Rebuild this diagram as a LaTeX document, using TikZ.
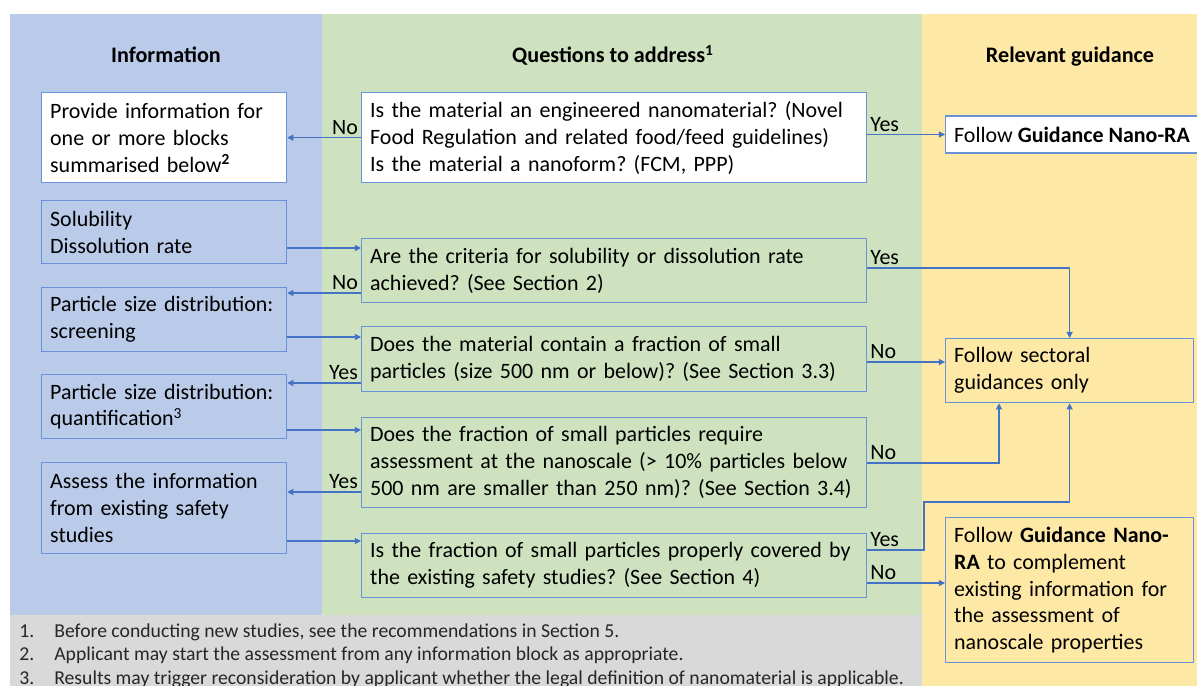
\documentclass[tikz,border=0pt]{standalone}
\usepackage{fontspec}
\setmainfont{Carlito}
\usetikzlibrary{arrows.meta}
\frenchspacing

\definecolor{infoblue}{RGB}{186,202,233}
\definecolor{questgreen}{RGB}{206,226,192}
\definecolor{guideyellow}{RGB}{254,232,166}
\definecolor{notegrey}{RGB}{217,217,217}
\definecolor{boxblue}{RGB}{106,146,214}
\definecolor{arrowblue}{RGB}{68,114,196}
\definecolor{notetext}{RGB}{38,38,38}

\begin{document}
\begin{tikzpicture}[x=0.02cm, y=-0.02cm,
        box/.style={draw=boxblue, line width=0.75pt, anchor=north west, align=left,
            inner xsep=0.17cm, inner ysep=0pt, font=\fontsize{12.5}{15.3}\selectfont},
        infobox/.style={box, text width=4.56cm},
        questbox/.style={box, text width=9.76cm},
        guidebox/.style={box, text width=4.62cm},
        head/.style={anchor=base, font=\fontsize{12.6}{15.3}\selectfont\bfseries},
        lbl/.style={font=\fontsize{12.5}{15.3}\selectfont, inner sep=1.5pt},
        note/.style={text=notetext, font=\fontsize{11.2}{13.6}\selectfont, anchor=base west, inner sep=0pt},
        arr/.style={draw=arrowblue, line width=0.6pt, -{Triangle[length=3.5pt,width=3.5pt]}}]

    \useasboundingbox (0,0) rectangle (1197,686);

    \fill[infoblue] (10,14) rectangle (322,615);
    \fill[questgreen] (322,14) rectangle (922,615);
    \fill[notegrey] (10,615) rectangle (922,686);
    \fill[guideyellow] (922,14) rectangle (1197,686);

    \node[head] (hinfo) at (166,63) {Information};
    \node[head] (hquest) at (613,63) {Questions to address\textsuperscript{1}};
    \node[head] (hguide) at (1070,63) {Relevant guidance};

    \node[infobox, fill=white, minimum height=1.8cm] (provide) at (41,92) {Provide information for\\one or more blocks\\summarised below\textsuperscript{\textbf{2}}};
    \node[infobox, minimum height=1.26cm] (solub) at (41,200) {Solubility\\Dissolution rate};
    \node[infobox, minimum height=1.28cm] (screen) at (41,287) {Particle size distribution:\\screening};
    \node[infobox, minimum height=1.28cm] (quant) at (41,374) {Particle size distribution:\\quantification\textsuperscript{3}};
    \node[infobox, minimum height=1.82cm] (assess) at (41,462) {Assess the information\\from existing safety\\studies};

    \node[questbox, fill=white, minimum height=1.8cm] (q1) at (361,92) {Is the material an engineered nanomaterial? (Novel\\Food Regulation and related food/feed guidelines)\\Is the material a nanoform? (FCM, PPP)};
    \node[questbox, minimum height=1.28cm] (q2) at (361,238) {Are the criteria for solubility or dissolution rate\\achieved? (See Section 2)};
    \node[questbox, minimum height=1.3cm] (q3) at (361,326) {Does the material contain a fraction of small\\particles (size 500 nm or below)? (See Section 3.3)};
    \node[questbox, minimum height=1.8cm] (q4) at (361,417) {Does the fraction of small particles require\\assessment at the nanoscale (> 10\% particles below\\500 nm are smaller than 250 nm)? (See Section 3.4)};
    \node[questbox, minimum height=1.28cm] (q5) at (361,533) {Is the fraction of small particles properly covered by\\the existing safety studies? (See Section 4)};

    \node[box, fill=white, anchor=west, minimum height=0.74cm] (guide1) at (945,134.5) {Follow \textbf{Guidance Nano-RA}};
    \node[guidebox, minimum height=1.28cm] (guide2) at (945,338) {Follow sectoral\\guidances only};
    \node[guidebox, minimum height=2.9cm] (guide3) at (945,517) {Follow \textbf{Guidance Nano-}\\\textbf{RA} to complement\\existing information for\\the assessment of\\nanoscale properties};

    \draw[arr] (q1.west) node[lbl, above left] {No} -- (provide.east);
    \draw[arr] (guide1.west -| q1.east) node[lbl, above right] {Yes} -- (guide1.west);
    \draw[arr] (solub.east |- 0,248) -- (q2.west |- 0,248);
    \draw[arr] (q2.west |- 0,293) node[lbl, above left] {No} -- (screen.east |- 0,293);
    \draw[arr] (screen.east |- 0,337) -- (q3.west |- 0,337);
    \draw[arr] (q3.west |- 0,383) node[lbl, above left] {Yes} -- (quant.east |- 0,383);
    \draw[arr] (quant.east |- 0,430) -- (q4.west |- 0,430);
    \draw[arr] (q4.west |- 0,492) node[lbl, above left] {Yes} -- (assess.east |- 0,492);
    \draw[arr] (assess.east |- 0,541) -- (q5.west |- 0,541);

    \draw[arr] (q2.east |- 0,268) node[lbl, above right] {Yes} -| (guide2.north);
    \draw[arr] (q3.east |- 0,362) node[lbl, above right] {No} -- (guide2.west |- 0,362);
    \draw[arr] (q4.east |- 0,463) node[lbl, above right] {No} -| (guide2.south -| 999,0);
    \draw[arr] (q5.east |- 0,550) node[lbl, above right] {Yes} -- (924,550) |- (guide2.south |- 0,502) -- (guide2.south);
    \draw[arr] (q5.east |- 0,583) node[lbl, above right] {No} -- (guide3.west |- 0,583);

    \node[note] (note1) at (19,637) {\makebox[0.7cm][l]{1.}Before conducting new studies, see the recommendations in Section 5.};
    \node[note] (note2) at (19,660) {\makebox[0.7cm][l]{2.}Applicant may start the assessment from any information block as appropriate.};
    \node[note] (note3) at (19,684) {\makebox[0.7cm][l]{3.}Results may trigger reconsideration by applicant whether the legal definition of nanomaterial is applicable.};
\end{tikzpicture}
\end{document}
